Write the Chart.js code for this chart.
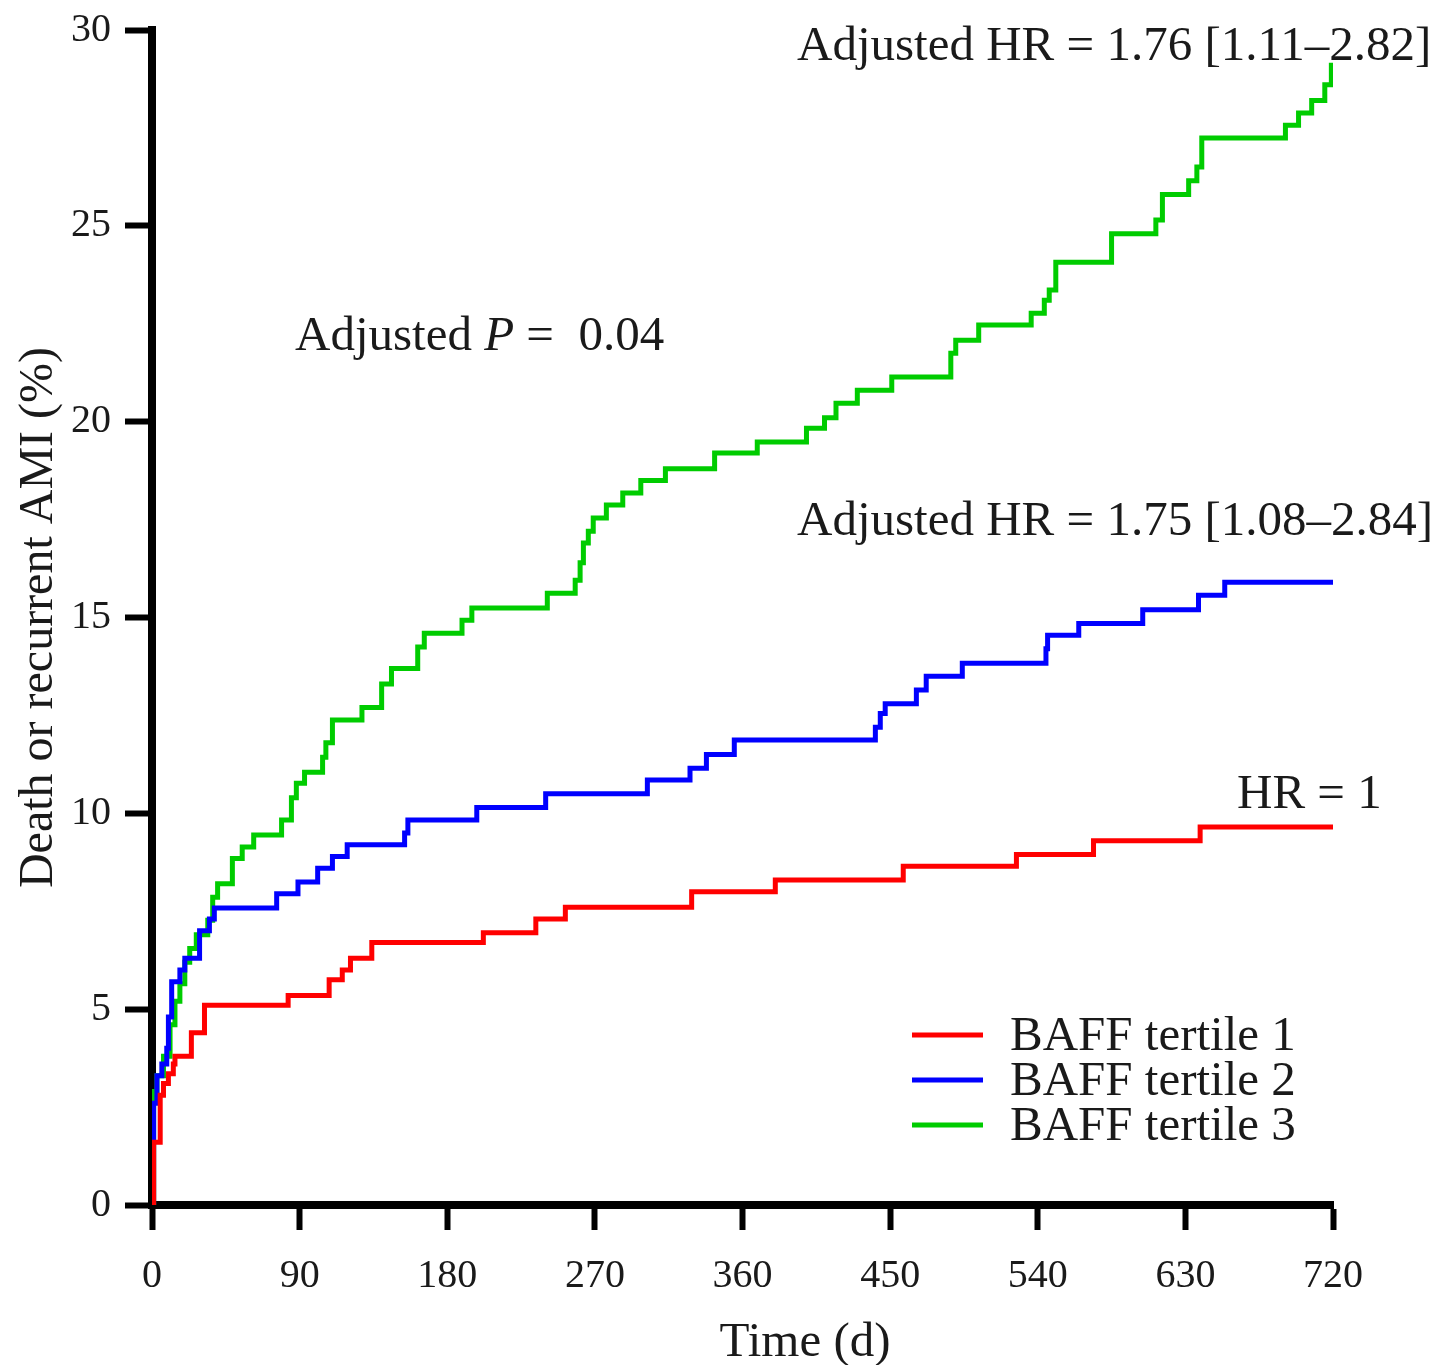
<!DOCTYPE html>
<html>
<head>
<meta charset="utf-8">
<title>Death or recurrent AMI by BAFF tertile</title>
<script src="https://cdn.jsdelivr.net/npm/chart.js@4.4.1/dist/chart.umd.min.js"></script>
<style>
    body { margin: 0; background: #fff; }
    #wrap { width: 1447px; height: 1365px; }
</style>
</head>
<body>
<div id="wrap"><canvas id="kmChart" width="1447" height="1365"></canvas></div>
<script>
// Step points: day of event, cumulative % after it
let tertile1Days = [0, 1, 5, 7, 10, 13, 14, 24, 32, 83, 108, 116, 121, 134, 202, 234, 252, 329, 380, 458, 527, 574, 639, 720];
let tertile1Pct  = [0, 1.6, 2.8, 3.1, 3.35, 3.6, 3.8, 4.4, 5.1, 5.35, 5.75, 6.0, 6.3, 6.7, 6.95, 7.3, 7.6, 8.0, 8.3, 8.65, 8.95, 9.3, 9.65, 9.65];

let tertile2Days = [0, 1, 3, 6, 9, 10, 12, 17, 20, 29, 35, 38, 76, 89, 101, 110, 119, 154, 156, 198, 240, 302,
                    328, 338, 355, 441, 444, 447, 466, 472, 494, 545, 546, 565, 604, 638, 654, 720];
let tertile2Pct  = [0, 2.6, 3.3, 3.6, 4.0, 4.8, 5.7, 6.0, 6.3, 7.0, 7.3, 7.58, 7.95, 8.25, 8.6, 8.9, 9.2, 9.5, 9.83, 10.15, 10.5, 10.85,
                    11.15, 11.5, 11.87, 12.2, 12.55, 12.8, 13.15, 13.5, 13.83, 14.2, 14.55, 14.85, 15.2, 15.57, 15.9, 15.9];

let tertile3Days = [0, 1, 3, 7, 11, 14, 17, 20, 23, 27, 34, 37, 40, 49, 55, 62, 79, 85, 88, 93,
                    104, 106, 110, 128, 140, 146, 162, 166, 189, 195, 241, 258, 261, 263, 266, 269, 277, 287, 298, 313,
                    343, 369, 399, 410, 417, 430, 451, 487, 490, 504, 536, 544, 547, 551, 585, 612, 616, 632, 637, 640,
                    691, 699, 707, 715, 719, 720];
let tertile3Pct  = [0, 2.9, 3.3, 3.8, 4.6, 5.2, 5.65, 6.2, 6.55, 6.9, 7.27, 7.86, 8.2, 8.85, 9.14, 9.45, 9.83, 10.4, 10.77, 11.05,
                    11.43, 11.8, 12.38, 12.7, 13.3, 13.7, 14.25, 14.6, 14.93, 15.24, 15.62, 15.95, 16.4, 16.9, 17.2, 17.54, 17.87, 18.18, 18.5, 18.8,
                    19.2, 19.48, 19.83, 20.1, 20.47, 20.8, 21.14, 21.75, 22.08, 22.47, 22.77, 23.1, 23.36, 24.07, 24.8, 25.15, 25.8, 26.15, 26.5, 27.24,
                    27.57, 27.88, 28.2, 28.6, 29.1, 29.1];

let seriesNames = ['BAFF tertile 1', 'BAFF tertile 2', 'BAFF tertile 3'];
let xTicks = [0, 90, 180, 270, 360, 450, 540, 630, 720];
let yTicks = [0, 5, 10, 15, 20, 25, 30];

let serif = "'Liberation Serif', 'Times New Roman', serif";
let ink = '#1a1a1a';

function toPoints(days, pct) {
    return days.map((d, i) => ({ x: d, y: pct[i] }));
}

function stepLine(label, days, pct, color) {
    return {
        label: label,
        data: toPoints(days, pct),
        borderColor: color,
        backgroundColor: color,
        borderWidth: 5,
        stepped: true,
        pointRadius: 0,
        fill: false
    };
}

// texts written over the plot, plus the legend box and the x title
let notesPlugin = {
    id: 'notes',
    afterDraw(chart) {
        let ctx = chart.ctx;
        ctx.save();
        ctx.fillStyle = ink;
        ctx.textBaseline = 'alphabetic';
        ctx.textAlign = 'left';
        ctx.font = '49px ' + serif;
        ctx.fillText('Adjusted HR = 1.76 [1.11\u20132.82]', 797, 60);
        ctx.fillText('Adjusted HR = 1.75 [1.08\u20132.84]', 797, 535);
        ctx.fillText('HR = 1', 1237, 808);

        // Adjusted P = 0.04, with the P in italics
        let x = 295;
        ctx.fillText('Adjusted ', x, 350);
        x += ctx.measureText('Adjusted ').width;
        ctx.font = 'italic 49px ' + serif;
        ctx.fillText('P', x, 350);
        x += ctx.measureText('P').width;
        ctx.font = '49px ' + serif;
        ctx.fillText(' =  0.04', x, 350);

        // x axis title
        ctx.textAlign = 'center';
        ctx.fillText('Time (d)', 805, 1356);

        // legend
        ctx.textAlign = 'left';
        ctx.textBaseline = 'middle';
        chart.data.datasets.forEach((ds, i) => {
            let y = 1035 + i * 45;
            ctx.strokeStyle = ds.borderColor;
            ctx.lineWidth = 5;
            ctx.beginPath();
            ctx.moveTo(912, y);
            ctx.lineTo(983, y);
            ctx.stroke();
            ctx.fillText(ds.label, 1010, y + 2);
        });
        ctx.restore();
    }
};

function createChart() {
    let ctx = document.getElementById('kmChart').getContext('2d');
    new Chart(ctx, {
        type: 'line',
        data: {
            datasets: [
                stepLine(seriesNames[0], tertile1Days, tertile1Pct, '#ff0000'),
                stepLine(seriesNames[1], tertile2Days, tertile2Pct, '#0000ff'),
                stepLine(seriesNames[2], tertile3Days, tertile3Pct, '#00cc00')
            ]
        },
        options: {
            responsive: false,
            animation: false,
            devicePixelRatio: 1,
            layout: { padding: { top: 30, right: 114, left: 0, bottom: 0 } },
            plugins: {
                legend: { display: false },
                tooltip: { enabled: false }
            },
            scales: {
                x: {
                    type: 'linear',
                    min: 0,
                    max: 720,
                    afterBuildTicks: s => { s.ticks = xTicks.map(v => ({ value: v })); },
                    afterFit: s => { s.height = 160; s.paddingLeft = 0; s.paddingRight = 0; },
                    border: { display: true, color: '#000', width: 8 },
                    grid: { display: true, drawOnChartArea: false, drawTicks: true, tickLength: 25, tickWidth: 6, tickColor: '#000' },
                    ticks: { color: ink, padding: 22, maxRotation: 0, font: { family: serif, size: 40 } },
                    title: { display: false }
                },
                y: {
                    type: 'linear',
                    min: 0,
                    max: 30,
                    afterBuildTicks: s => { s.ticks = yTicks.map(v => ({ value: v })); },
                    afterFit: s => { s.width = 152; s.paddingTop = 0; s.paddingBottom = 0; },
                    border: { display: true, color: '#000', width: 8 },
                    grid: { display: true, drawOnChartArea: false, drawTicks: true, tickLength: 27, tickWidth: 6, tickColor: '#000' },
                    ticks: { color: ink, padding: 14, font: { family: serif, size: 40 } },
                    title: {
                        display: true,
                        text: 'Death or recurrent AMI (%)',
                        color: ink,
                        padding: { top: 11, bottom: 0 },
                        font: { family: serif, size: 48 }
                    }
                }
            }
        },
        plugins: [notesPlugin]
    });
}

createChart();
</script>
</body>
</html>
